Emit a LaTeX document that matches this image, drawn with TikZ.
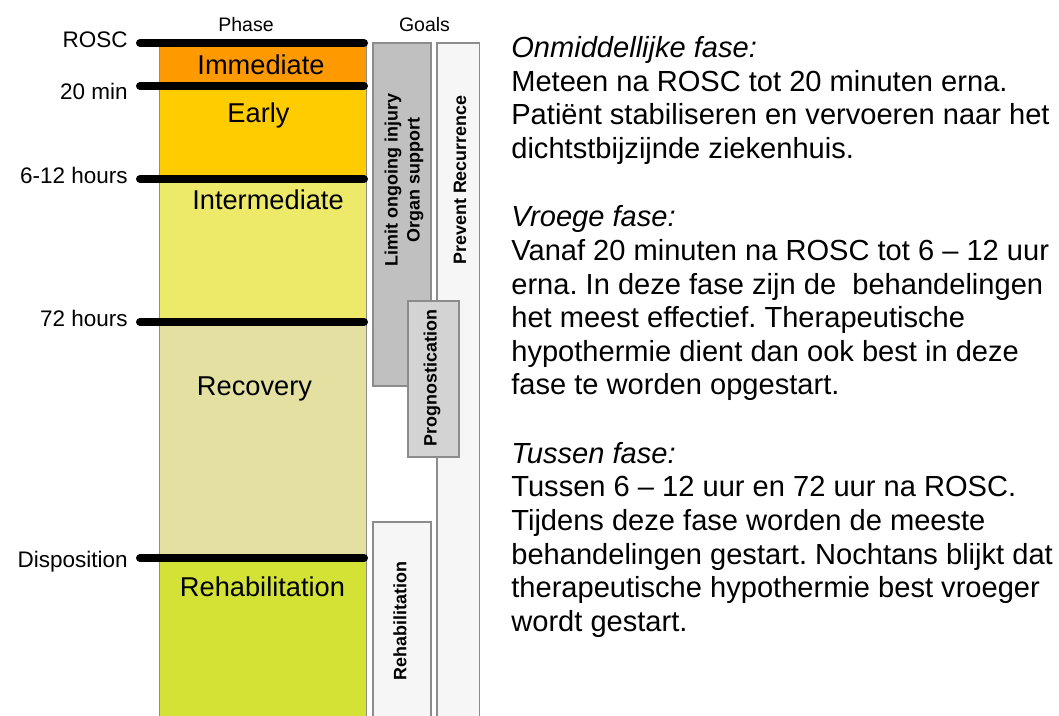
\documentclass[tikz,border=0pt]{standalone}
\usepackage{fontspec}
\setmainfont{Liberation Sans}
\frenchspacing
\definecolor{immediatecol}{RGB}{255,153,0}
\definecolor{earlycol}{RGB}{255,204,0}
\definecolor{intermedcol}{RGB}{237,234,106}
\definecolor{recoverycol}{RGB}{227,224,162}
\definecolor{rehabcol}{RGB}{212,226,54}
\definecolor{limitcol}{RGB}{192,192,192}
\definecolor{prognocol}{RGB}{211,211,211}
\definecolor{palecol}{RGB}{246,246,246}
\definecolor{edgecol}{RGB}{140,140,140}
\usetikzlibrary{positioning}

\begin{document}
\begin{tikzpicture}[x=0.02cm, y=-0.02cm,
    milestone/.style={line width=0.16cm, line cap=round, color=black},
    timelabel/.style={anchor=base east, inner sep=0pt, font=\fontsize{12.8}{15}\selectfont},
    phaselabel/.style={anchor=base, inner sep=0pt, font=\fontsize{15.5}{18}\selectfont},
    headlabel/.style={anchor=base, inner sep=0pt, font=\fontsize{11.1}{13}\selectfont},
    phasebox/.style={draw=edgecol, line width=0.5pt},
    goalbox/.style={draw=edgecol, line width=0.6pt},
    goallabel/.style={rotate=90, align=center, inner sep=0pt, font=\bfseries\fontsize{10.2}{12.5}\selectfont},
    desc/.style={anchor=base west, align=left, inner sep=0pt, font=\fontsize{16.55}{19.16}\selectfont}]
    \useasboundingbox (0,0) rectangle (1059,716);

    % Headers
    \node[headlabel] (phasehead) at (246,32) {Phase};
    \node[headlabel] (goalshead) at (424.5,32) {Goals};

    % Phase column
    \filldraw[phasebox, fill=immediatecol] (159.5,43) rectangle (366,86);
    \filldraw[phasebox, fill=earlycol] (159.5,86) rectangle (366,179);
    \filldraw[phasebox, fill=intermedcol] (159.5,179) rectangle (366,322);
    \filldraw[phasebox, fill=recoverycol] (159.5,322) rectangle (366,558);
    \filldraw[phasebox, fill=rehabcol] (159.5,558) rectangle (366,720);

    \node[phaselabel] (immediate) at (261,75) {Immediate};
    \node[phaselabel] (early) at (258.5,123) {Early};
    \node[phaselabel] (intermediate) at (268,210) {Intermediate};
    \node[phaselabel] (recovery) at (254.5,396) {Recovery};
    \node[phaselabel] (rehabilitation) at (262.5,596) {Rehabilitation};

    % Time marks
    \draw[milestone] (140,43) -- (364,43);
    \draw[milestone] (140,86) -- (364,86);
    \draw[milestone] (140,179) -- (364,179);
    \draw[milestone] (140,322) -- (364,322);
    \draw[milestone] (140,558) -- (364,558);

    \node[timelabel] (rosc) at (128,48) {ROSC};
    \node[timelabel] (twenty) at (128,100) {20 min};
    \node[timelabel] (sixtwelve) at (128,184) {6-12 hours};
    \node[timelabel] (seventytwo) at (128,327) {72 hours};
    \node[timelabel] (disposition) at (128,567) {Disposition};

    % Goals
    \filldraw[goalbox, fill=limitcol] (373,43) rectangle (431,386);
    \filldraw[goalbox, fill=palecol] (437,43) rectangle (479.5,720);
    \filldraw[goalbox, fill=prognocol] (408,301) rectangle (459,457);
    \filldraw[goalbox, fill=palecol] (373,522) rectangle (431,720);

    \node[goallabel] (limit) at (404,180) {Limit ongoing injury\\Organ support};
    \node[goallabel] (prevent) at (460,180) {Prevent Recurrence};
    \node[goallabel] (progno) at (432,378) {Prognostication};
    \node[goallabel] (rehabgoal) at (400,621) {Rehabilitation};

    % Description (anchored at the baseline of the last line)
    \node[desc] (onmiddellijk) at (511,158.4) {\textit{Onmiddellijke fase:}\\
        Meteen na ROSC tot 20 minuten erna.\\
        Patiënt stabiliseren en vervoeren naar het\\
        dichtstbijzijnde ziekenhuis.};
    \node[desc] (vroeg) at (511,395) {\textit{Vroege fase:}\\
        Vanaf 20 minuten na ROSC tot 6 – 12 uur\\
        erna. In deze fase zijn de\ \ behandelingen\\
        het meest effectief. Therapeutische\\
        hypothermie dient dan ook best in deze\\
        fase te worden opgestart.};
    \node[desc] (tussen) at (511,631.6) {\textit{Tussen fase:}\\
        Tussen 6 – 12 uur en 72 uur na ROSC.\\
        Tijdens deze fase worden de meeste\\
        behandelingen gestart. Nochtans blijkt dat\\
        therapeutische hypothermie best vroeger\\
        wordt gestart.};
\end{tikzpicture}
\end{document}
